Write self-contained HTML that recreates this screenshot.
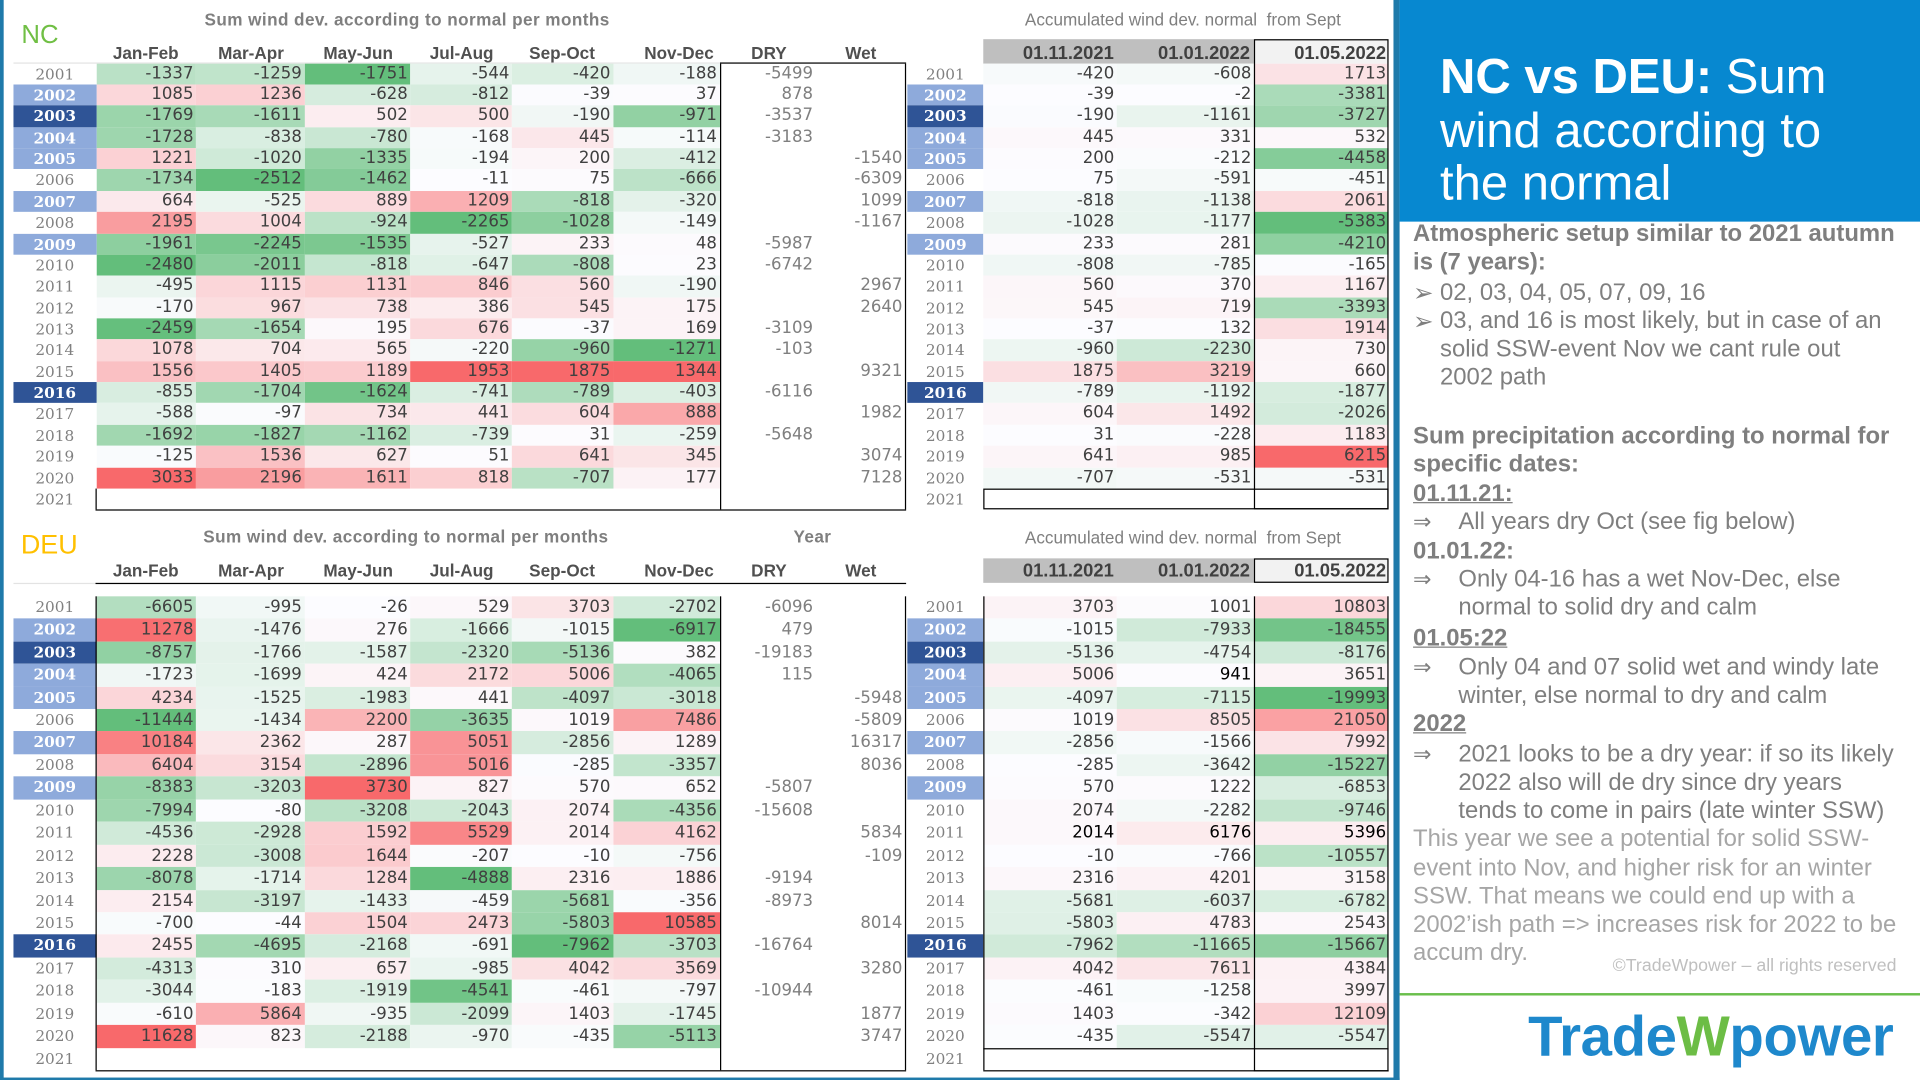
<!DOCTYPE html>
<html><head><meta charset="utf-8"><title>NC vs DEU wind</title>
<style>
html,body{margin:0;padding:0;background:#fff;width:1920px;height:1080px;overflow:hidden}
#wrap{position:absolute;left:0;top:0;width:1568px;height:882px;transform:scale(1.2244898);transform-origin:0 0;font-family:"Liberation Sans",Arial,sans-serif}
.a{position:absolute;white-space:nowrap}
.k{position:absolute;background:#000}
.bx{position:absolute;border:1px solid #000;box-sizing:border-box}
.g{position:absolute;display:grid;font-family:"DejaVu Sans",sans-serif;font-size:13.5px;color:#404040}
.g>div{text-align:right;padding-right:2px;white-space:nowrap}
.g>.y{text-align:center;padding:0;font-family:"DejaVu Serif",serif;font-size:12.5px;color:#808080}
.g>.hb{background:#8eaadb;color:#fff;font-weight:bold}
.g>.hd{background:#2f5496;color:#fff;font-weight:bold}
.nc{top:51.7px;grid-auto-rows:17.36px;line-height:17.36px}
.de{top:486.7px;grid-auto-rows:18.46px;line-height:18.46px}
.L{left:11px;grid-template-columns:67.5px 81.5px 88.5px 86.5px 83px 82.5px 87px 78.5px 73px}
.R{left:741px;grid-template-columns:62px 109px 112px 110px}
.L>div:nth-child(9n+8),.L>div:nth-child(9n){color:#7f7f7f}
.hd1{position:absolute;font:bold 14px/1 "Liberation Sans",sans-serif;color:#505050;width:100px;text-align:center}
.hd2{position:absolute;font:bold 15px/1 "Liberation Sans",sans-serif;color:#404040;text-align:right}
.ttl{position:absolute;font:bold 14px/1 "Liberation Sans",sans-serif;color:#7f7f7f;letter-spacing:.35px;white-space:nowrap}
.acc{position:absolute;font:14px/1 "Liberation Sans",sans-serif;color:#7f7f7f;white-space:nowrap}
.t{position:absolute;font:19.5px/1 "Liberation Sans",sans-serif;color:#7f7f7f;white-space:nowrap}
.t.b{font-weight:bold}
.t.u{text-decoration:underline}
.t.l{color:#a6a6a6}
.ar{position:absolute;font:18px/1 "DejaVu Sans",sans-serif;color:#7f7f7f}
.bl{position:absolute;font:20px/1 "DejaVu Sans",sans-serif;color:#7f7f7f}
</style></head><body>
<div id="wrap">

<!-- frame -->
<div class="a" style="left:0;top:0;width:2.5px;height:882px;background:#1f7aaa"></div>
<div class="a" style="left:0;top:879.5px;width:1143px;height:2.5px;background:#1f7aaa"></div>
<div class="a" style="left:1138px;top:0;width:5px;height:882px;background:#1f7aaa"></div>

<!-- NC labels -->
<div class="a" style="left:17.5px;top:17.6px;font:21px/1 'Liberation Sans',sans-serif;color:#70bf44">NC</div>
<div class="ttl" style="left:167px;top:9.4px">Sum wind dev. according to normal per months</div>
<div class="acc" style="left:837px;top:9.4px">Accumulated wind dev. normal&nbsp; from Sept</div>

<div class="a" style="left:11px;top:51px;width:576.5px;height:1px;background:#e3e3e3"></div>
<div class="hd1" style="left:69px;top:36.4px">Jan-Feb</div>
<div class="hd1" style="left:155px;top:36.4px">Mar-Apr</div>
<div class="hd1" style="left:242.5px;top:36.4px">May-Jun</div>
<div class="hd1" style="left:327px;top:36.4px">Jul-Aug</div>
<div class="hd1" style="left:409px;top:36.4px">Sep-Oct</div>
<div class="hd1" style="left:504.5px;top:36.4px">Nov-Dec</div>
<div class="hd1" style="left:578px;top:36.4px">DRY</div>
<div class="hd1" style="left:653px;top:36.4px">Wet</div>

<div class="a" style="left:803px;top:32px;width:221px;height:19.7px;background:#bfbfbf"></div>
<div class="a" style="left:1024px;top:32px;width:110px;height:19.7px;background:#f2f2f2"></div>
<div class="hd2" style="left:803px;width:106.6px;top:35.8px">01.11.2021</div>
<div class="hd2" style="left:912px;width:108.8px;top:35.8px">01.01.2022</div>
<div class="hd2" style="left:1024px;width:108px;top:35.8px">01.05.2022</div>

<div class="g L nc" id="ncl">
<div class="y">2001</div><div>-1337</div><div>-1259</div><div>-1751</div><div>-544</div><div>-420</div><div>-188</div><div>-5499</div><div></div>
<div class="y hb">2002</div><div>1085</div><div>1236</div><div>-628</div><div>-812</div><div>-39</div><div>37</div><div>878</div><div></div>
<div class="y hd">2003</div><div>-1769</div><div>-1611</div><div>502</div><div>500</div><div>-190</div><div>-971</div><div>-3537</div><div></div>
<div class="y hb">2004</div><div>-1728</div><div>-838</div><div>-780</div><div>-168</div><div>445</div><div>-114</div><div>-3183</div><div></div>
<div class="y hb">2005</div><div>1221</div><div>-1020</div><div>-1335</div><div>-194</div><div>200</div><div>-412</div><div></div><div>-1540</div>
<div class="y">2006</div><div>-1734</div><div>-2512</div><div>-1462</div><div>-11</div><div>75</div><div>-666</div><div></div><div>-6309</div>
<div class="y hb">2007</div><div>664</div><div>-525</div><div>889</div><div>1209</div><div>-818</div><div>-320</div><div></div><div>1099</div>
<div class="y">2008</div><div>2195</div><div>1004</div><div>-924</div><div>-2265</div><div>-1028</div><div>-149</div><div></div><div>-1167</div>
<div class="y hb">2009</div><div>-1961</div><div>-2245</div><div>-1535</div><div>-527</div><div>233</div><div>48</div><div>-5987</div><div></div>
<div class="y">2010</div><div>-2480</div><div>-2011</div><div>-818</div><div>-647</div><div>-808</div><div>23</div><div>-6742</div><div></div>
<div class="y">2011</div><div>-495</div><div>1115</div><div>1131</div><div>846</div><div>560</div><div>-190</div><div></div><div>2967</div>
<div class="y">2012</div><div>-170</div><div>967</div><div>738</div><div>386</div><div>545</div><div>175</div><div></div><div>2640</div>
<div class="y">2013</div><div>-2459</div><div>-1654</div><div>195</div><div>676</div><div>-37</div><div>169</div><div>-3109</div><div></div>
<div class="y">2014</div><div>1078</div><div>704</div><div>565</div><div>-220</div><div>-960</div><div>-1271</div><div>-103</div><div></div>
<div class="y">2015</div><div>1556</div><div>1405</div><div>1189</div><div>1953</div><div>1875</div><div>1344</div><div></div><div>9321</div>
<div class="y hd">2016</div><div>-855</div><div>-1704</div><div>-1624</div><div>-741</div><div>-789</div><div>-403</div><div>-6116</div><div></div>
<div class="y">2017</div><div>-588</div><div>-97</div><div>734</div><div>441</div><div>604</div><div>888</div><div></div><div>1982</div>
<div class="y">2018</div><div>-1692</div><div>-1827</div><div>-1162</div><div>-739</div><div>31</div><div>-259</div><div>-5648</div><div></div>
<div class="y">2019</div><div>-125</div><div>1536</div><div>627</div><div>51</div><div>641</div><div>345</div><div></div><div>3074</div>
<div class="y">2020</div><div>3033</div><div>2196</div><div>1611</div><div>818</div><div>-707</div><div>177</div><div></div><div>7128</div>
<div class="y">2021</div><div></div><div></div><div></div><div></div><div></div><div></div><div></div><div></div>
</div>

<div class="g R nc" id="ncr">
<div class="y">2001</div><div>-420</div><div>-608</div><div>1713</div>
<div class="y hb">2002</div><div>-39</div><div>-2</div><div>-3381</div>
<div class="y hd">2003</div><div>-190</div><div>-1161</div><div>-3727</div>
<div class="y hb">2004</div><div>445</div><div>331</div><div>532</div>
<div class="y hb">2005</div><div>200</div><div>-212</div><div>-4458</div>
<div class="y">2006</div><div>75</div><div>-591</div><div>-451</div>
<div class="y hb">2007</div><div>-818</div><div>-1138</div><div>2061</div>
<div class="y">2008</div><div>-1028</div><div>-1177</div><div>-5383</div>
<div class="y hb">2009</div><div>233</div><div>281</div><div>-4210</div>
<div class="y">2010</div><div>-808</div><div>-785</div><div>-165</div>
<div class="y">2011</div><div>560</div><div>370</div><div>1167</div>
<div class="y">2012</div><div>545</div><div>719</div><div>-3393</div>
<div class="y">2013</div><div>-37</div><div>132</div><div>1914</div>
<div class="y">2014</div><div>-960</div><div>-2230</div><div>730</div>
<div class="y">2015</div><div>1875</div><div>3219</div><div>660</div>
<div class="y hd">2016</div><div>-789</div><div>-1192</div><div>-1877</div>
<div class="y">2017</div><div>604</div><div>1492</div><div>-2026</div>
<div class="y">2018</div><div>31</div><div>-228</div><div>1183</div>
<div class="y">2019</div><div>641</div><div>985</div><div>6215</div>
<div class="y">2020</div><div>-707</div><div>-531</div><div>-531</div>
<div class="y">2021</div><div></div><div></div><div></div>
</div>

<!-- NC lines -->
<div class="k" style="left:587.5px;top:51.2px;width:152px;height:1px"></div>
<div class="k" style="left:587.5px;top:51.7px;width:1px;height:364.6px"></div>
<div class="k" style="left:738.5px;top:51.7px;width:1px;height:364.6px"></div>
<div class="k" style="left:78px;top:415.8px;width:661.5px;height:1px"></div>
<div class="k" style="left:78px;top:398.9px;width:1px;height:17.4px"></div>
<div class="bx" style="left:1024px;top:32px;width:110px;height:384.3px"></div>
<div class="bx" style="left:803px;top:398.9px;width:331px;height:17.4px"></div>

<!-- DEU labels -->
<div class="a" style="left:17px;top:434.4px;font:22px/1 'Liberation Sans',sans-serif;color:#ffc000">DEU</div>
<div class="ttl" style="left:166px;top:431.2px">Sum wind dev. according to normal per months</div>
<div class="ttl" style="left:648px;top:431.2px">Year</div>
<div class="acc" style="left:837px;top:431.8px">Accumulated wind dev. normal&nbsp; from Sept</div>

<div class="hd1" style="left:69px;top:459.2px">Jan-Feb</div>
<div class="hd1" style="left:155px;top:459.2px">Mar-Apr</div>
<div class="hd1" style="left:242.5px;top:459.2px">May-Jun</div>
<div class="hd1" style="left:327px;top:459.2px">Jul-Aug</div>
<div class="hd1" style="left:409px;top:459.2px">Sep-Oct</div>
<div class="hd1" style="left:504.5px;top:459.2px">Nov-Dec</div>
<div class="hd1" style="left:578px;top:459.2px">DRY</div>
<div class="hd1" style="left:653px;top:459.2px">Wet</div>
<div class="a" style="left:11px;top:476px;width:67.5px;height:1px;background:#e3e3e3"></div>
<div class="k" style="left:78px;top:476px;width:661.5px;height:1px"></div>

<div class="a" style="left:803px;top:456px;width:221px;height:20.4px;background:#bfbfbf"></div>
<div class="bx" style="left:1024px;top:456px;width:110px;height:20.4px;background:#f2f2f2"></div>
<div class="hd2" style="left:803px;width:106.6px;top:458.8px">01.11.2021</div>
<div class="hd2" style="left:912px;width:108.8px;top:458.8px">01.01.2022</div>
<div class="hd2" style="left:1024px;width:108px;top:458.8px">01.05.2022</div>

<div class="g L de" id="del">
<div class="y">2001</div><div>-6605</div><div>-995</div><div>-26</div><div>529</div><div>3703</div><div>-2702</div><div>-6096</div><div></div>
<div class="y hb">2002</div><div>11278</div><div>-1476</div><div>276</div><div>-1666</div><div>-1015</div><div>-6917</div><div>479</div><div></div>
<div class="y hd">2003</div><div>-8757</div><div>-1766</div><div>-1587</div><div>-2320</div><div>-5136</div><div>382</div><div>-19183</div><div></div>
<div class="y hb">2004</div><div>-1723</div><div>-1699</div><div>424</div><div>2172</div><div>5006</div><div>-4065</div><div>115</div><div></div>
<div class="y hb">2005</div><div>4234</div><div>-1525</div><div>-1983</div><div>441</div><div>-4097</div><div>-3018</div><div></div><div>-5948</div>
<div class="y">2006</div><div>-11444</div><div>-1434</div><div>2200</div><div>-3635</div><div>1019</div><div>7486</div><div></div><div>-5809</div>
<div class="y hb">2007</div><div>10184</div><div>2362</div><div>287</div><div>5051</div><div>-2856</div><div>1289</div><div></div><div>16317</div>
<div class="y">2008</div><div>6404</div><div>3154</div><div>-2896</div><div>5016</div><div>-285</div><div>-3357</div><div></div><div>8036</div>
<div class="y hb">2009</div><div>-8383</div><div>-3203</div><div>3730</div><div>827</div><div>570</div><div>652</div><div>-5807</div><div></div>
<div class="y">2010</div><div>-7994</div><div>-80</div><div>-3208</div><div>-2043</div><div>2074</div><div>-4356</div><div>-15608</div><div></div>
<div class="y">2011</div><div>-4536</div><div>-2928</div><div>1592</div><div>5529</div><div>2014</div><div>4162</div><div></div><div>5834</div>
<div class="y">2012</div><div>2228</div><div>-3008</div><div>1644</div><div>-207</div><div>-10</div><div>-756</div><div></div><div>-109</div>
<div class="y">2013</div><div>-8078</div><div>-1714</div><div>1284</div><div>-4888</div><div>2316</div><div>1886</div><div>-9194</div><div></div>
<div class="y">2014</div><div>2154</div><div>-3197</div><div>-1433</div><div>-459</div><div>-5681</div><div>-356</div><div>-8973</div><div></div>
<div class="y">2015</div><div>-700</div><div>-44</div><div>1504</div><div>2473</div><div>-5803</div><div>10585</div><div></div><div>8014</div>
<div class="y hd">2016</div><div>2455</div><div>-4695</div><div>-2168</div><div>-691</div><div>-7962</div><div>-3703</div><div>-16764</div><div></div>
<div class="y">2017</div><div>-4313</div><div>310</div><div>657</div><div>-985</div><div>4042</div><div>3569</div><div></div><div>3280</div>
<div class="y">2018</div><div>-3044</div><div>-183</div><div>-1919</div><div>-4541</div><div>-461</div><div>-797</div><div>-10944</div><div></div>
<div class="y">2019</div><div>-610</div><div>5864</div><div>-935</div><div>-2099</div><div>1403</div><div>-1745</div><div></div><div>1877</div>
<div class="y">2020</div><div>11628</div><div>823</div><div>-2188</div><div>-970</div><div>-435</div><div>-5113</div><div></div><div>3747</div>
<div class="y">2021</div><div></div><div></div><div></div><div></div><div></div><div></div><div></div><div></div>
</div>

<div class="g R de" id="der">
<div class="y">2001</div><div>3703</div><div>1001</div><div>10803</div>
<div class="y hb">2002</div><div>-1015</div><div>-7933</div><div>-18455</div>
<div class="y hd">2003</div><div>-5136</div><div>-4754</div><div>-8176</div>
<div class="y hb">2004</div><div>5006</div><div style="color:#000">941</div><div>3651</div>
<div class="y hb">2005</div><div>-4097</div><div>-7115</div><div>-19993</div>
<div class="y">2006</div><div>1019</div><div>8505</div><div>21050</div>
<div class="y hb">2007</div><div>-2856</div><div>-1566</div><div>7992</div>
<div class="y">2008</div><div>-285</div><div>-3642</div><div>-15227</div>
<div class="y hb">2009</div><div>570</div><div>1222</div><div>-6853</div>
<div class="y">2010</div><div>2074</div><div>-2282</div><div>-9746</div>
<div class="y">2011</div><div style="color:#000">2014</div><div style="color:#000">6176</div><div style="color:#000">5396</div>
<div class="y">2012</div><div>-10</div><div>-766</div><div>-10557</div>
<div class="y">2013</div><div>2316</div><div>4201</div><div>3158</div>
<div class="y">2014</div><div>-5681</div><div>-6037</div><div>-6782</div>
<div class="y">2015</div><div>-5803</div><div>4783</div><div>2543</div>
<div class="y hd">2016</div><div>-7962</div><div>-11665</div><div>-15667</div>
<div class="y">2017</div><div>4042</div><div>7611</div><div>4384</div>
<div class="y">2018</div><div>-461</div><div>-1258</div><div>3997</div>
<div class="y">2019</div><div>1403</div><div>-342</div><div>12109</div>
<div class="y">2020</div><div>-435</div><div>-5547</div><div>-5547</div>
<div class="y">2021</div><div></div><div></div><div></div>
</div>

<!-- DEU lines -->
<div class="k" style="left:78px;top:486.7px;width:1px;height:387.7px"></div>
<div class="k" style="left:587.5px;top:486.7px;width:1px;height:387.7px"></div>
<div class="k" style="left:738.5px;top:486.7px;width:1px;height:387.7px"></div>
<div class="k" style="left:78px;top:873.9px;width:661.5px;height:1px"></div>
<div class="k" style="left:803px;top:486.7px;width:1px;height:387.7px"></div>
<div class="bx" style="left:1024px;top:486.7px;width:110px;height:388.2px;border-top:none"></div>
<div class="k" style="left:803px;top:856px;width:331px;height:1px"></div>
<div class="k" style="left:803px;top:873.9px;width:331px;height:1px"></div>

<!-- right panel -->
<div class="a" style="left:1143px;top:0;width:425px;height:181px;background:#0788d0"></div>
<div class="a" style="left:1176px;top:42px;font:40px/43.5px 'Liberation Sans',sans-serif;color:#fff"><b>NC vs DEU:</b> Sum<br>wind according to<br>the normal</div>

<div class="t b" style="left:1154px;top:182.2px">Atmospheric setup similar to 2021 autumn</div>
<div class="t b" style="left:1154px;top:205.4px">is (7 years):</div>
<div class="bl" style="left:1154px;top:229px">➢</div>
<div class="t" style="left:1176px;top:229.9px">02, 03, 04, 05, 07, 09, 16</div>
<div class="bl" style="left:1154px;top:252.1px">➢</div>
<div class="t" style="left:1176px;top:253px">03, and 16 is most likely, but in case of an</div>
<div class="t" style="left:1176px;top:276.1px">solid SSW-event Nov we cant rule out</div>
<div class="t" style="left:1176px;top:299.3px">2002 path</div>

<div class="t b" style="left:1154px;top:346.9px">Sum precipitation according to normal for</div>
<div class="t b" style="left:1154px;top:370.1px">specific dates:</div>
<div class="t b u" style="left:1154px;top:394.4px">01.11.21:</div>
<div class="ar" style="left:1154px;top:417.5px">⇒</div>
<div class="t" style="left:1191px;top:416.9px">All years dry Oct (see fig below)</div>
<div class="t b" style="left:1154px;top:440.8px">01.01.22:</div>
<div class="ar" style="left:1154px;top:464.6px">⇒</div>
<div class="t" style="left:1191px;top:464px">Only 04-16 has a wet Nov-Dec, else</div>
<div class="t" style="left:1191px;top:487.1px">normal to solid dry and calm</div>
<div class="t b u" style="left:1154px;top:511.6px">01.05:22</div>
<div class="ar" style="left:1154px;top:536.7px">⇒</div>
<div class="t" style="left:1191px;top:536.1px">Only 04 and 07 solid wet and windy late</div>
<div class="t" style="left:1191px;top:559.2px">winter, else normal to dry and calm</div>
<div class="t b u" style="left:1154px;top:582.4px">2022</div>
<div class="ar" style="left:1154px;top:607.5px">⇒</div>
<div class="t" style="left:1191px;top:606.9px">2021 looks to be a dry year: if so its likely</div>
<div class="t" style="left:1191px;top:630px">2022 also will de dry since dry years</div>
<div class="t" style="left:1191px;top:653.2px">tends to come in pairs (late winter SSW)</div>
<div class="t l" style="left:1154px;top:676.3px">This year we see a potential for solid SSW-</div>
<div class="t l" style="left:1154px;top:699.5px">event into Nov, and higher risk for an winter</div>
<div class="t l" style="left:1154px;top:722.6px">SSW. That means we could end up with a</div>
<div class="t l" style="left:1154px;top:745.7px">2002’ish path =&gt; increases risk for 2022 to be</div>
<div class="t l" style="left:1154px;top:768.9px">accum dry.</div>
<div class="a" style="left:1317px;top:782.1px;font:14.5px/1 'Liberation Sans',sans-serif;color:#bfbfbf">©TradeWpower – all rights reserved</div>

<div class="a" style="left:1143px;top:811px;width:425px;height:2px;background:#6abf4b"></div>
<div class="a" style="left:1248px;top:822.6px;font:bold 46px/1 'Liberation Sans',sans-serif;color:#1e88cc;letter-spacing:-0.3px">Trade<span style="color:#6cbd45">W</span>power</div>

</div>
<script>
(function(){
function col(v,mn,mx){var w=[252,252,255],c,t;
 if(v>=0){c=[248,105,107];t=mx>0?v/mx:0;}else{c=[99,190,123];t=mn<0?v/mn:0;}
 t=Math.max(0,Math.min(1,t));t=Math.pow(t,1.35);
 return 'rgb('+w.map(function(x,i){return Math.round(x+(c[i]-x)*t);}).join(',')+')';}
function paint(id,n,cols,global,ov){
 var g=document.getElementById(id);if(!g)return;
 var k=Array.prototype.slice.call(g.children),rows=[];
 for(var i=0;i<k.length;i+=n)rows.push(k.slice(i,i+n));
 var st={};
 cols.forEach(function(c){var vals=[];rows.forEach(function(r){var v=parseFloat(r[c].textContent);if(!isNaN(v))vals.push(v);});
  st[c]={mn:Math.min.apply(null,vals),mx:Math.max.apply(null,vals)};});
 if(global){var mn=Infinity,mx=-Infinity;cols.forEach(function(c){mn=Math.min(mn,st[c].mn);mx=Math.max(mx,st[c].mx);});
  cols.forEach(function(c){st[c]={mn:mn,mx:mx};});}
 if(ov){for(var c in ov){for(var p in ov[c])st[c][p]=ov[c][p];}}
 rows.forEach(function(r){cols.forEach(function(c){var v=parseFloat(r[c].textContent);
  if(!isNaN(v))r[c].style.background=col(v,st[c].mn,st[c].mx);});});
}
paint('ncl',9,[1,2,3,4,5,6],false,{2:{mx:3033},3:{mx:2700},5:{mn:-1300}});
paint('del',9,[1,2,3,4,5,6],false,{2:{mx:9500,mn:-7000},3:{mn:-6000},4:{mx:6500},5:{mx:14000}});
paint('ncr',4,[1,2,3],true,null);
paint('der',4,[1,2,3],true,{1:{mx:30000},2:{mx:30000},3:{mx:30000}});
})();
</script>
</body></html>
